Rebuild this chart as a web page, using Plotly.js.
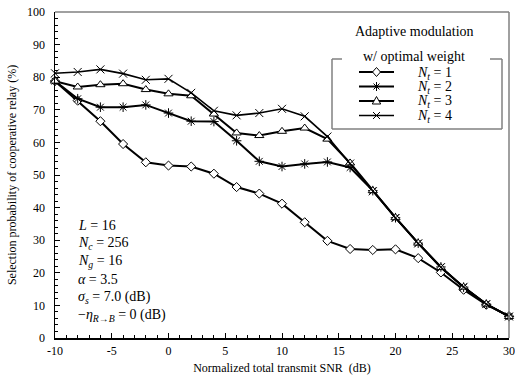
<!DOCTYPE html>
<html>
<head>
<meta charset="utf-8">
<script src="https://cdn.plot.ly/plotly-3.0.1.min.js"></script>
<style>html,body{margin:0;padding:0;background:#fff;}#chart{width:515px;height:379px;}</style>
</head>
<body>
<div id="chart"></div>
<script>
// ---- data ----
var snr = [-10,-8,-6,-4,-2,0,2,4,6,8,10,12,14,16,18,20,22,24,26,28,30];
var nt1 = [78.8,72.8,66.5,59.5,53.9,52.9,52.6,50.4,46.3,44.3,41.2,35.5,29.8,27.3,27.0,27.2,24.5,20.1,14.8,10.2,6.7];
var nt2 = [78.8,73.4,70.8,70.8,71.5,69.0,66.5,66.4,60.5,54.2,52.6,53.4,54.0,52.3,45.2,36.9,29.1,21.8,15.6,10.4,6.6];
var nt3 = [78.8,77.0,77.7,78.0,76.2,74.9,74.3,68.7,62.9,62.1,63.4,64.4,61.0,53.7,45.2,36.9,29.1,21.6,15.6,10.4,6.6];
var nt4 = [81.2,81.6,82.4,81.1,79.2,79.5,75.2,69.7,68.3,69.0,70.3,68.0,61.8,53.5,45.0,36.8,29.0,21.7,15.7,10.4,6.6];
var seriesNames = ['<i>N</i><sub><i>t</i></sub> = 1','<i>N</i><sub><i>t</i></sub> = 2','<i>N</i><sub><i>t</i></sub> = 3','<i>N</i><sub><i>t</i></sub> = 4'];
var xTickVals = [-10,-5,0,5,10,15,20,25,30];
var xTickText = ['-10','-5','0','5','10','15','20','25','30'];
var yTickVals = [0,10,20,30,40,50,60,70,80,90,100];
var paramLines = ['<i>L</i> = 16','<i>N</i><sub><i>c</i></sub> = 256','<i>N</i><sub><i>g</i></sub> = 16','<i>α</i> = 3.5','<i>σ</i><sub><i>s</i></sub> = 7.0 (dB)','−<i>η</i><sub><i>R</i>→<i>B</i></sub> = 0 (dB)'];

// ---- layout helpers (pixel -> paper) ----
var W = 515, H = 379, ML = 55, MR = 6, MT = 12, MB = 41;
var PW = W - ML - MR, PH = H - MT - MB;
function px(x){ return (x - ML) / PW; }
function py(y){ return (H - MB - y) / PH; }

var font = '"Liberation Serif", "Times New Roman", Times, serif';
var styles = [
  {sym:'diamond', size:7, fill:'#fff', lw:2},
  {sym:'asterisk-open', size:8, fill:'#000', lw:2},
  {sym:'triangle-up', size:8, fill:'#fff', lw:2},
  {sym:'x-thin-open', size:8, fill:'#000', lw:1.6}
];
var ys = [nt1, nt2, nt3, nt4];
var traces = ys.map(function(v,i){
  var s = styles[i];
  return {x: snr, y: v, type:'scatter', mode:'lines+markers', name: seriesNames[i],
    line:{color:'#000', width:s.lw},
    marker:{symbol:s.sym, size:s.size, color:s.fill, line:{color:'#000', width:1}},
    showlegend:false, cliponaxis:false};
});

var boxTop = 59, boxBot = 129;
var shapes = [
  {type:'line', xref:'paper', yref:'paper', x0:0, x1:1, y0:1, y1:1, line:{color:'#808080', width:1.5}},
  {type:'line', xref:'paper', yref:'paper', x0:1, x1:1, y0:0, y1:1, line:{color:'#808080', width:1.5}},
  {type:'line', xref:'paper', yref:'paper', x0:px(332), x1:px(342), y0:py(boxTop), y1:py(boxTop), line:{color:'#808080', width:1.5}},
  {type:'line', xref:'paper', yref:'paper', x0:px(490), x1:px(502), y0:py(boxTop), y1:py(boxTop), line:{color:'#808080', width:1.5}},
  {type:'line', xref:'paper', yref:'paper', x0:px(332), x1:px(332), y0:py(boxTop), y1:py(boxBot), line:{color:'#808080', width:1.5}},
  {type:'line', xref:'paper', yref:'paper', x0:px(502), x1:px(502), y0:py(boxTop), y1:py(boxBot), line:{color:'#808080', width:1.5}},
  {type:'line', xref:'paper', yref:'paper', x0:px(332), x1:px(502), y0:py(boxBot), y1:py(boxBot), line:{color:'#808080', width:1.5}}
];
var annotations = [
  {xref:'paper', yref:'paper', x:px(414), y:py(31), text:'Adaptive modulation', showarrow:false, xanchor:'center', yanchor:'middle', font:{family:font, size:14, color:'#000'}},
  {xref:'paper', yref:'paper', x:px(414), y:py(57), text:'w/ optimal weight', showarrow:false, xanchor:'center', yanchor:'middle', borderpad:0, font:{family:font, size:14, color:'#000'}}
];
var legY = [72, 86.5, 101, 115.5];
var markerPaths = [
  'M0,4.5 L4,0 L0,-4.5 L-4,0 Z',
  'M-4,0 L4,0 M0,-4.5 L0,4.5 M-3,-3 L3,3 M-3,3 L3,-3',
  'M0,4.5 L4.2,-3 L-4.2,-3 Z',
  'M-3.5,-3.5 L3.5,3.5 M-3.5,3.5 L3.5,-3.5'
];
legY.forEach(function(yy,i){
  shapes.push({type:'line', xref:'paper', yref:'paper', x0:px(359), x1:px(394), y0:py(yy), y1:py(yy), line:{color:'#000', width:styles[i].lw}});
  shapes.push({type:'path', xref:'paper', yref:'paper', xsizemode:'pixel', ysizemode:'pixel', xanchor:px(376.5), yanchor:py(yy),
    path: markerPaths[i], fillcolor: (i===0||i===2)?'#fff':'rgba(0,0,0,0)', line:{color:'#000', width:1}});
  annotations.push({xref:'paper', yref:'paper', x:px(416), y:py(yy+1), text:seriesNames[i], showarrow:false, xanchor:'left', yanchor:'middle', borderpad:0, font:{family:font, size:14, color:'#000'}});
});
var paramY = [225, 243, 261, 279, 297, 315];
paramLines.forEach(function(t,i){
  annotations.push({xref:'paper', yref:'paper', x:px(77), y:py(paramY[i]), text:t, showarrow:false, xanchor:'left', yanchor:'middle', borderpad:0, font:{family:font, size:14, color:'#000'}});
});

var layout = {
  width: W, height: H,
  margin:{l:ML, r:MR, t:MT, b:MB},
  paper_bgcolor:'#fff', plot_bgcolor:'#fff',
  font:{family:font, color:'#000'},
  showlegend:false,
  xaxis:{range:[-10,30], tickmode:'array', tickvals:xTickVals, ticktext:xTickText,
    ticks:'inside', ticklen:5, tickwidth:1, tickcolor:'#000',
    minor:{dtick:1, tick0:0, ticks:'inside', ticklen:3, tickwidth:1, tickcolor:'#000', showgrid:false},
    showgrid:false, zeroline:false, showline:true, linecolor:'#000', linewidth:1.5,
    tickfont:{family:font, size:12, color:'#000'}, ticklabelstandoff:1,
    title:{text:'Normalized total transmit SNR  (dB)', font:{family:font, size:12, color:'#000'}, standoff:6},
    automargin:false, fixedrange:true},
  yaxis:{range:[0,100], tickmode:'array', tickvals:yTickVals,
    ticks:'inside', ticklen:5, tickwidth:1, tickcolor:'#000',
    minor:{dtick:2, tick0:0, ticks:'inside', ticklen:3, tickwidth:1, tickcolor:'#000', showgrid:false},
    showgrid:false, zeroline:false, showline:true, linecolor:'#000', linewidth:1.5,
    tickfont:{family:font, size:12, color:'#000'}, ticklabelstandoff:6,
    title:{text:'Selection probability of cooperative relay (%)', font:{family:font, size:12, color:'#000'}, standoff:8},
    automargin:false, fixedrange:true},
  shapes: shapes,
  annotations: annotations
};
Plotly.newPlot('chart', traces, layout, {staticPlot:true, displayModeBar:false});
</script>
</body>
</html>
